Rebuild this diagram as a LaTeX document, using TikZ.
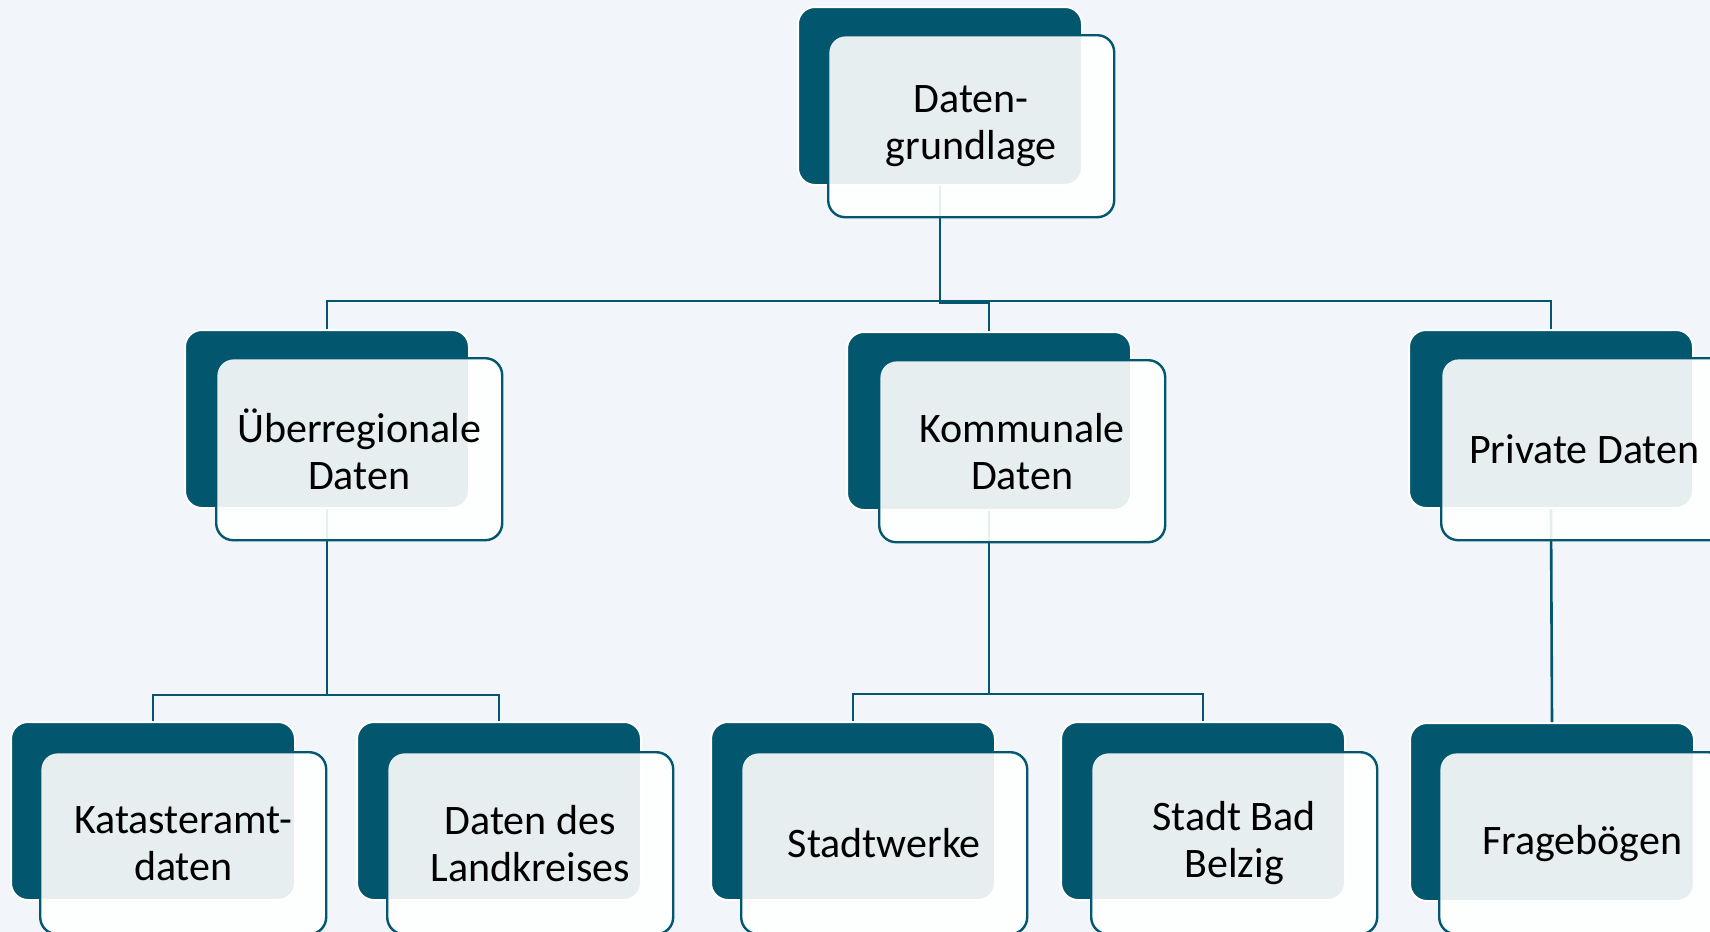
\documentclass[tikz,border=0pt]{standalone}
\usepackage{fontspec}
\setmainfont{Carlito}
\usetikzlibrary{positioning}
\definecolor{petrol}{HTML}{02566E}
\definecolor{paper}{HTML}{F2F5F9}
\tikzset{
  backbox/.style={rectangle, rounded corners=8.5pt, fill=petrol, draw=white, line width=1pt,
    minimum width=142pt, minimum height=89pt, anchor=north west, inner sep=0pt},
  frontbox/.style={rectangle, rounded corners=8.5pt, fill=white, fill opacity=0.9, text opacity=1,
    draw=petrol, line width=1.2pt, minimum width=143pt, minimum height=91pt, inner sep=2pt,
    align=center, font=\fontsize{21}{23.5}\selectfont},
  link/.style={draw=petrol, line width=1.3pt}
}

\begin{document}
\begin{tikzpicture}[x=0.5pt,y=-0.5pt]
  \useasboundingbox (0,0) rectangle (1710,932);
  \clip (0,0) rectangle (1710,932);
  \fill[paper] (0,0) rectangle (1710,932);

  % back boxes
  \node[backbox] (grund) at (797,6) {};
  \node[backbox] (ueber) at (184,329) {};
  \node[backbox] (kommunal) at (846,331) {};
  \node[backbox] (privat) at (1408,329) {};
  \node[backbox] (kataster) at (10,721) {};
  \node[backbox] (landkreis) at (356,721) {};
  \node[backbox] (stadtwerke) at (710,721) {};
  \node[backbox] (belzig) at (1060,721) {};
  \node[backbox] (frageb) at (1409,722) {};

  % connectors
  \draw[link] (grund.south) -- ++(0,115) -| (ueber.north);
  \draw[link] (grund.south) -- ++(0,115) -| (privat.north);
  \draw[link] (grund.south) -- ++(0,117) -| (kommunal.north);
  \draw[link] (ueber.south) -- ++(0,186) -| (kataster.north);
  \draw[link] (ueber.south) -- ++(0,186) -| (landkreis.north);
  \draw[link] (kommunal.south) -- ++(0,183) -| (stadtwerke.north);
  \draw[link] (kommunal.south) -- ++(0,183) -| (belzig.north);
  \draw[link] (privat.south) -- (frageb.north);

  % front boxes
  \node[frontbox, below right=14pt and 15pt of grund.north west] (grund-f) {Daten-\\grundlage};
  \node[frontbox, below right=14pt and 15.5pt of ueber.north west] (ueber-f) {Überregionale\\Daten};
  \node[frontbox, below right=14pt and 16pt of kommunal.north west] (kommunal-f) {Kommunale\\Daten};
  \node[frontbox, below right=14pt and 16pt of privat.north west] (privat-f) {Private Daten};
  \node[frontbox, below right=15pt and 14.5pt of kataster.north west] (kataster-f) {Katasteramt-\\daten};
  \node[frontbox, below right=15pt and 15pt of landkreis.north west] (landkreis-f) {Daten des\\Landkreises};
  \node[frontbox, below right=15pt and 15pt of stadtwerke.north west] (stadtwerke-f) {Stadtwerke};
  \node[frontbox, below right=15pt and 15pt of belzig.north west] (belzig-f) {Stadt Bad\\Belzig};
  \node[frontbox, below right=14.5pt and 14.5pt of frageb.north west] (frageb-f) {Fragebögen};
\end{tikzpicture}
\end{document}
